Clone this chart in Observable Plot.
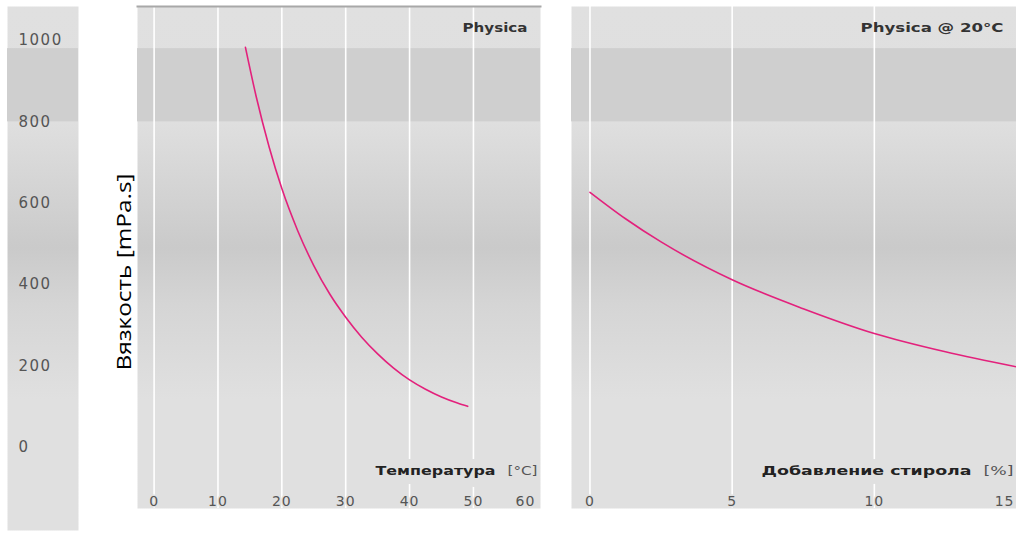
<!DOCTYPE html>
<html><head><meta charset="utf-8">
<script src="https://cdn.jsdelivr.net/npm/d3@7"></script>
<script src="https://cdn.jsdelivr.net/npm/@observablehq/plot@0.6"></script>
<style>
body{margin:0;background:#fff;}
#chart{position:relative;width:1016px;height:533px;overflow:hidden;background:#fff;}
#chart svg{position:absolute;overflow:visible;}
</style></head><body><div id="chart"></div>
<script>
// ---- data ----
const tempC        = [14.3, 16, 18, 20, 22.5, 25, 27.5, 30, 32.5, 35, 37.5, 40, 42.5, 45, 47.5, 49.1];
const viscByTemp   = [983, 861, 739, 636, 532, 447, 377, 320, 271, 230, 195, 166, 143, 124, 109, 101];
const styrenePct   = [0, 1.25, 2.5, 5, 7.5, 10, 12.5, 15];
const viscByStyr   = [627, 562, 505, 412, 341, 280, 235, 198];
const yTicks       = [0, 200, 400, 600, 800, 1000];
const tempTicks    = [0, 10, 20, 30, 40, 50, 60];
const styreneTicks = [0, 5, 10, 15];
const specBand     = [800, 980];
const yLabel       = "Вязкость [mPa.s]";
const leftTitle    = "Physica";
const rightTitle   = "Physica @ 20°C";
const leftAxisName = "Температура";
const leftUnit     = "[°C]";
const rightAxisName= "Добавление стирола";
const rightUnit    = "[%]";

// ---- styles ----
const BG = "#e0e0e0", BAND = "#cfcfcf", CURVE = "#e3217c", TICK = "#555", DARK = "#222";
const FONT = "DejaVu Sans";
const stretch = {
  [leftTitle]: 65, [rightTitle]: 143, [leftAxisName]: 120, [leftUnit]: 30,
  [rightAxisName]: 210, [rightUnit]: 30, [yLabel]: 197
};

function gradient(id) {
  return () => {
    const defs = d3.create("svg:defs");
    const g = defs.append("linearGradient").attr("id", id)
      .attr("gradientUnits", "userSpaceOnUse")
      .attr("x1", 0).attr("x2", 0).attr("y1", 0).attr("y2", 524);
    [[0, BG], [0.22, "#dfdfdf"], [0.46, "#cacaca"], [0.57, "#d5d5d5"], [0.75, BG], [1, BG]]
      .forEach(([o, c]) => g.append("stop").attr("offset", o).attr("stop-color", c));
    return defs.node();
  };
}

const panelY = {domain: [-150, 1083.5], axis: null};
const curveL = tempC.map((t, i) => ({x: t, y: viscByTemp[i]}));
const curveR = styrenePct.map((s, i) => ({x: s, y: viscByStyr[i]}));

function tickMarks(ticks) {
  const inner = ticks.slice(0, -1), last = ticks.slice(-1);
  const common = {frameAnchor: "bottom", lineAnchor: "middle", dy: -6.5, text: d => String(d), fill: TICK,
    fontSize: 14, fontFamily: FONT, stroke: BG, strokeWidth: 3};
  return [
    Plot.text(inner, {x: d => d, ...common}),
    Plot.text(last, {x: d => d, ...common, textAnchor: "end", dx: -2})
  ];
}

function axisTitle(name, unit) {
  return [
    Plot.text([unit], {text: d => d, frameAnchor: "bottom-right", lineAnchor: "middle", textAnchor: "end", dx: -3, dy: -38,
      fontSize: 13, fontFamily: FONT, fill: TICK}),
    Plot.text([name], {text: d => d, frameAnchor: "bottom-right", lineAnchor: "middle", textAnchor: "end", dx: -45, dy: -38,
      fontSize: 13, fontWeight: "bold", fontFamily: FONT, fill: DARK, stroke: BG, strokeWidth: 18, strokeLinejoin: "round"})
  ];
}

function header(title) {
  return Plot.text([title], {text: d => d, frameAnchor: "top-right", lineAnchor: "middle", textAnchor: "end", dx: -13, dy: 21,
    fontSize: 13, fontWeight: "bold", fontFamily: FONT, fill: "#333"});
}

// left strip with y tick labels and y title
const strip = Plot.plot({
  width: 131, height: 524, marginTop: 0, marginBottom: 0, marginLeft: 0, marginRight: 60,
  x: {axis: null}, y: {domain: [-204, 1083.5], axis: null},
  style: {background: "transparent", fontFamily: FONT},
  marks: [
    gradient("gS"),
    Plot.frame({fill: "url(#gS)"}),
    Plot.rect([specBand], {y1: d => d[0], y2: d => d[1], fill: BAND}),
    Plot.text(yTicks, {y: d => d, text: d => String(d), frameAnchor: "left", textAnchor: "start", dx: 11,
      fontSize: 15, fontFamily: FONT, fill: TICK}),
    Plot.text([yLabel], {text: d => d, frameAnchor: "right", lineAnchor: "middle", textAnchor: "start", rotate: -90, dx: 46, dy: 102,
      fontSize: 20, fontFamily: "Open Sans", fill: "#000"})
  ]
});

const left = Plot.plot({
  width: 403, height: 502, margin: 0,
  x: {domain: [-2.6, 60.5], axis: null}, y: panelY,
  style: {background: "transparent", fontFamily: FONT},
  marks: [
    gradient("gL"),
    Plot.frame({fill: "url(#gL)"}),
    Plot.rect([specBand], {y1: d => d[0], y2: d => d[1], fill: BAND}),
    Plot.ruleX(tempTicks.slice(0, -1), {stroke: "#fff", strokeWidth: 1.6}),
    Plot.frame({anchor: "top", stroke: "#a8a8a8", strokeWidth: 2}),
    header(leftTitle),
    ...axisTitle(leftAxisName, leftUnit),
    ...tickMarks(tempTicks),
    Plot.line(curveL, {x: "x", y: "y", curve: "monotone-x", stroke: CURVE, strokeWidth: 1.6})
  ]
});

const right = Plot.plot({
  width: 445, height: 502, margin: 0,
  x: {domain: [-0.65, 15], axis: null}, y: panelY,
  style: {background: "transparent", fontFamily: FONT},
  marks: [
    gradient("gR"),
    Plot.frame({fill: "url(#gR)"}),
    Plot.rect([specBand], {y1: d => d[0], y2: d => d[1], fill: BAND}),
    Plot.ruleX(styreneTicks.slice(0, -1), {stroke: "#fff", strokeWidth: 1.6}),
    header(rightTitle),
    ...axisTitle(rightAxisName, rightUnit),
    ...tickMarks(styreneTicks),
    Plot.line(curveR, {x: "x", y: "y", curve: "monotone-x", stroke: CURVE, strokeWidth: 1.6})
  ]
});

const chart = document.getElementById("chart");
[[strip, 7, 6], [left, 137, 6], [right, 571, 6]].forEach(([svg, x, y]) => {
  svg.style.left = x + "px"; svg.style.top = y + "px";
  d3.select(svg).selectAll("text").each(function() {
    const t = this.textContent;
    const w = stretch[t];
    if (w) { this.setAttribute("textLength", w); this.setAttribute("lengthAdjust", "spacingAndGlyphs"); }
    else if (/^\d+$/.test(t)) this.style.letterSpacing = (svg === strip ? "1.5px" : "1px");
  });
  chart.appendChild(svg);
});
</script></body></html>
